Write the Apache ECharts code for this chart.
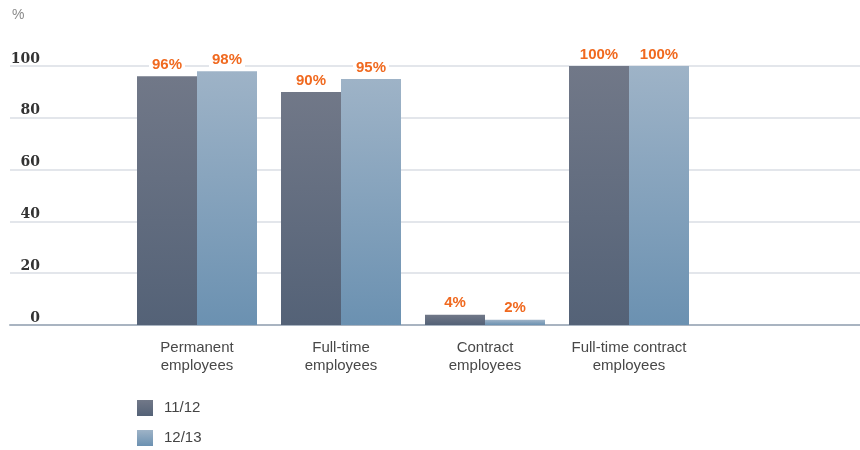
<!DOCTYPE html>
<html><head><meta charset="utf-8">
<script src="https://cdn.jsdelivr.net/npm/echarts@6/dist/echarts.min.js"></script>
<style>html,body{margin:0;padding:0;background:#fff}#c{width:860px;height:450px}</style>
</head><body><div id="c"></div>
<script>
var categories = ['Permanent\nemployees', 'Full-time\nemployees', 'Contract\nemployees', 'Full-time contract\nemployees'];
var series1112 = [96, 90, 4, 100];
var series1213 = [98, 95, 2, 100];
var seriesNames = ['11/12', '12/13'];
var yTicks = [0, 20, 40, 60, 80, 100];

var chart = echarts.init(document.getElementById('c'));
var darkGrad = new echarts.graphic.LinearGradient(0, 0, 0, 1, [{offset: 0, color: '#717888'}, {offset: 1, color: '#546277'}]);
var lightGrad = new echarts.graphic.LinearGradient(0, 0, 0, 1, [{offset: 0, color: '#9eb3c7'}, {offset: 1, color: '#6b91b1'}]);
var labelCfg = {
  show: true, position: 'top', distance: 3, formatter: '{c}%',
  color: '#f0691f', fontWeight: 'bold', fontSize: 15, fontFamily: 'Liberation Sans, Arial, sans-serif',
  backgroundColor: '#fff', padding: [1, 3]
};
chart.setOption({
  animation: false,
  graphic: [{type: 'text', left: 12, top: 8, style: {text: '%', fill: '#8a8a8a', fontSize: 14, fontFamily: 'Liberation Sans, Arial, sans-serif'}}],
  grid: [
    {left: 10, right: 0, top: 66, bottom: 125},
    {left: 125, width: 576, top: 66, bottom: 125}
  ],
  xAxis: [
    {gridIndex: 0, type: 'category', data: [''], axisLine: {show: true, lineStyle: {color: '#a9b4c1', width: 2}}, axisTick: {show: false}, axisLabel: {show: false}},
    {gridIndex: 1, type: 'category', data: categories, axisLine: {show: false}, axisTick: {show: false},
     axisLabel: {color: '#484848', fontSize: 15, lineHeight: 18, margin: 14, fontFamily: 'Liberation Sans, Arial, sans-serif', interval: 0}}
  ],
  yAxis: [
    {gridIndex: 0, type: 'value', min: 0, max: 100, interval: 20,
     axisLine: {show: false}, axisTick: {show: false},
     splitLine: {show: true, lineStyle: {color: '#e3e6eb', width: 2}},
     axisLabel: {inside: true, margin: 30, align: 'right', verticalAlign: 'bottom', lineHeight: 14, padding: 0,
       color: '#333', fontSize: 14, fontWeight: 'bold', fontFamily: 'DejaVu Serif, Georgia, serif',
       formatter: function (v) { return yTicks.indexOf(v) >= 0 ? String(v) : ''; }}},
    {gridIndex: 1, type: 'value', min: 0, max: 100, show: false, splitLine: {show: false}}
  ],
  legend: {
    left: 132, top: 395, height: 55, orient: 'vertical', icon: 'rect', itemWidth: 16, itemHeight: 16, itemGap: 14,
    textStyle: {color: '#444', fontSize: 15, lineHeight: 16, padding: [0, 0, 0, 6], fontFamily: 'Liberation Sans, Arial, sans-serif'},
    data: seriesNames
  },
  series: [
    {name: seriesNames[0], type: 'bar', xAxisIndex: 1, yAxisIndex: 1, data: series1112, barWidth: 60, barGap: '0%',
     itemStyle: {color: darkGrad}, label: labelCfg, z: 3},
    {name: seriesNames[1], type: 'bar', xAxisIndex: 1, yAxisIndex: 1, data: series1213, barWidth: 60, barGap: '0%',
     itemStyle: {color: lightGrad}, label: labelCfg, z: 3}
  ]
});
</script></body></html>
